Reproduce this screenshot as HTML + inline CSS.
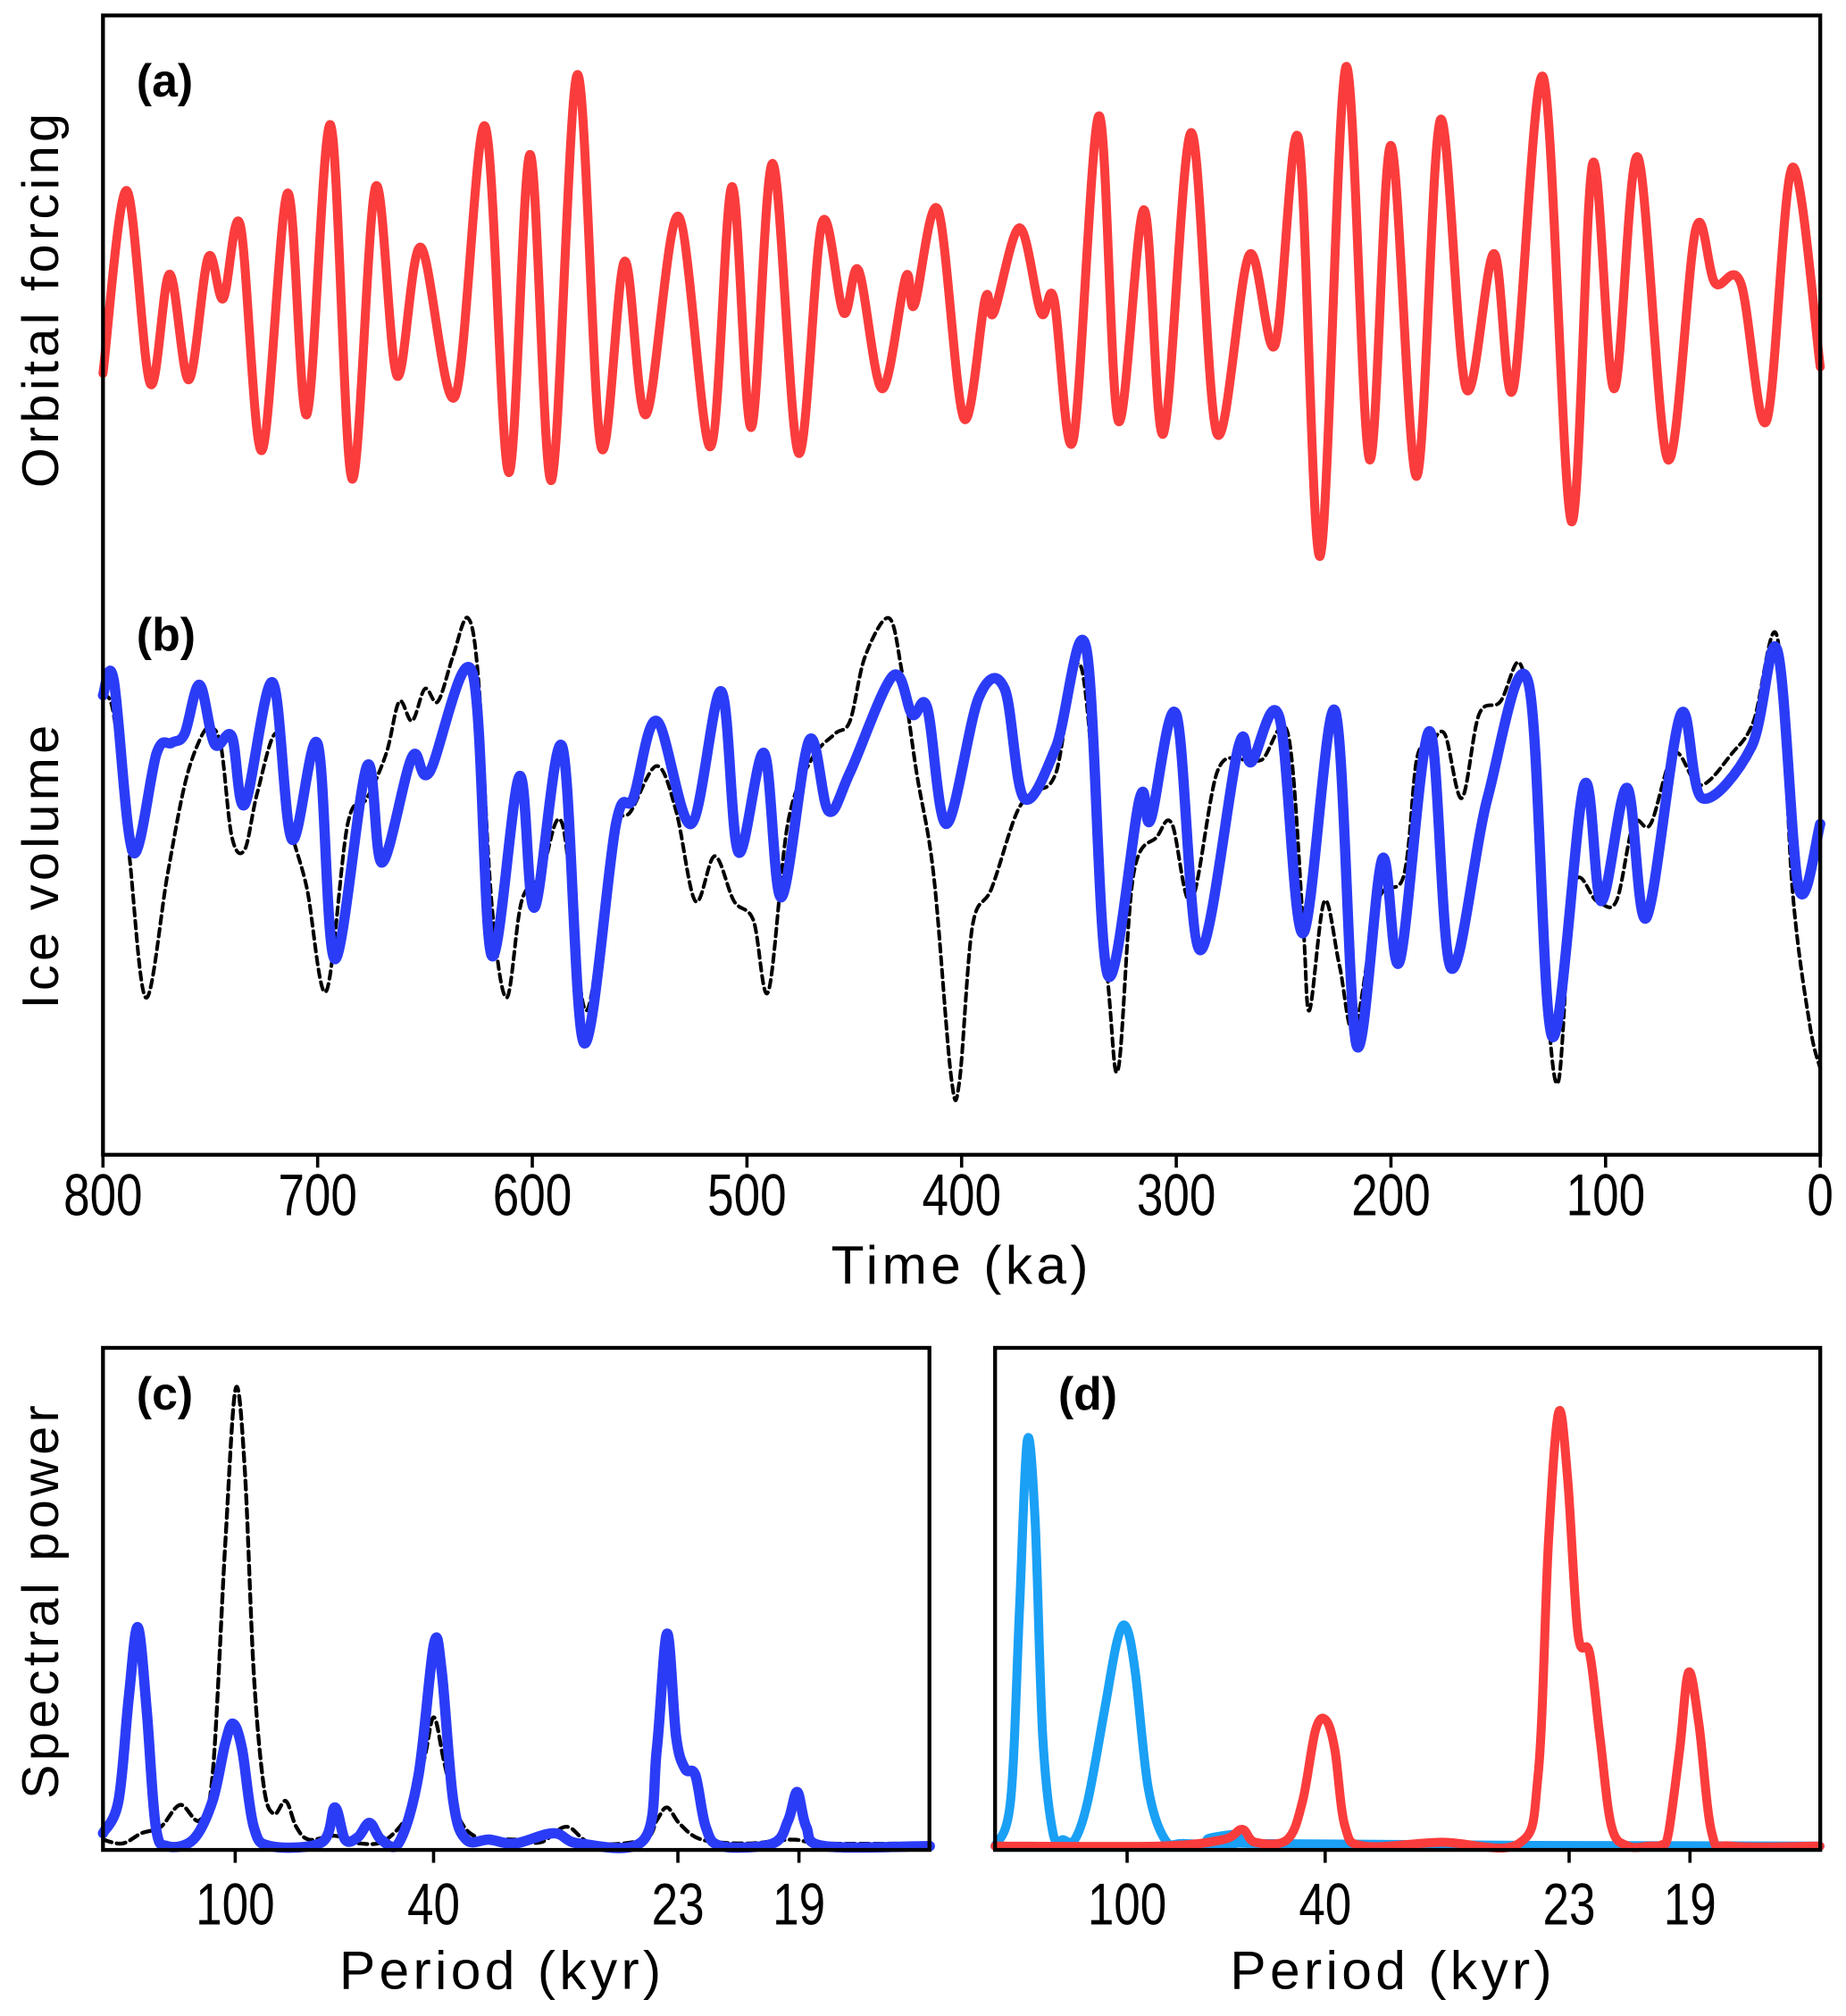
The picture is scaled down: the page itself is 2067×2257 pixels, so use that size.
<!DOCTYPE html>
<html><head><meta charset="utf-8"><style>
html,body{margin:0;padding:0;background:#fff;}
svg{display:block;}
text{font-family:"Liberation Sans Narrow","Liberation Sans",sans-serif;fill:#000;}
</style></head><body>
<svg id="fig" width="2067" height="2257" viewBox="0 0 1434 1566" preserveAspectRatio="none" xmlns="http://www.w3.org/2000/svg">
<rect x="0" y="0" width="1434" height="1566" fill="#fff"/>
<g id="marks"></g>
<rect x="80" y="12" width="1334" height="885" fill="none" stroke="#000" stroke-width="3"/>
<rect x="80" y="1047" width="642" height="390" fill="none" stroke="#000" stroke-width="3"/>
<rect x="773" y="1047" width="641" height="390" fill="none" stroke="#000" stroke-width="3"/>
<g id="ticks"></g>
<text x="106" y="75" font-size="36" font-weight="bold" font-family="Liberation Sans, sans-serif">(a)</text>
<text x="106" y="505" font-size="36" font-weight="bold" font-family="Liberation Sans, sans-serif">(b)</text>
<text x="106" y="1095" font-size="36" font-weight="bold" font-family="Liberation Sans, sans-serif">(c)</text>
<text x="822" y="1095" font-size="36" font-weight="bold" font-family="Liberation Sans, sans-serif">(d)</text>
<text transform="translate(45,232) rotate(-90)" text-anchor="middle" font-size="40" letter-spacing="3">Orbital forcing</text>
<text transform="translate(45,672) rotate(-90)" text-anchor="middle" font-size="40" letter-spacing="3">Ice volume</text>
<text transform="translate(45,1243) rotate(-90)" text-anchor="middle" font-size="40" letter-spacing="3">Spectral power</text>
<text x="747" y="997" text-anchor="middle" font-size="42" letter-spacing="3">Time (ka)</text>
<text x="390" y="1545" text-anchor="middle" font-size="42" letter-spacing="3">Period (kyr)</text>
<text x="1082" y="1545" text-anchor="middle" font-size="42" letter-spacing="3">Period (kyr)</text>
</svg>
<script>
const forcingTime=[800,789,778,769,760,751,744,736,726,714,705,694,684,673,663,652,636,622,611,601,591,579,568,557,547,532,517,507,498,488,476,465,455,448,437,426,422,411,399,389,385,373,363,357,348,336,327,315,306,293,281,266,254,243,233,221,210,200,188,177,165,152,143,129,116,106,96,85,71,58,49,37,25,13,0];
const forcingValue=[0.10,1.52,0.02,0.87,0.05,1.00,0.68,1.25,-0.50,1.50,-0.22,2.03,-0.72,1.55,0.08,1.08,-0.08,2.02,-0.67,1.80,-0.73,2.42,-0.47,0.97,-0.22,1.32,-0.47,1.55,-0.32,1.73,-0.52,1.27,0.57,0.90,-0.02,0.85,0.63,1.37,-0.25,0.68,0.57,1.23,0.57,0.68,-0.42,2.10,-0.27,1.37,-0.37,1.97,-0.37,1.02,0.32,1.92,-1.32,2.48,-0.57,1.87,-0.70,2.07,-0.02,1.03,-0.02,2.40,-1.05,1.73,-0.02,1.78,-0.57,1.22,0.80,0.80,-0.27,1.70,0.15];
const modelTime=[800,795,786,775,768,762,755,748,740,734,721,712,700,692,677,670,656,648,628,619,606,599,586,576,561,553,542,526,512,504,492,484,471,462,452,432,423,416,407,392,380,371,356,342,332,317,312,300,289,271,265,252,241,226,216,204,196,182,172,155,136,125,110,102,90,81,65,55,32,20,10,0];
const modelIce=[2.6,2.72,1.38,2.15,2.23,2.3,2.68,2.22,2.28,1.75,2.7,1.48,2.22,0.55,2.05,1.3,2.12,2.0,2.78,0.58,1.97,0.95,2.2,-0.1,1.6,1.8,2.4,1.6,2.63,1.38,2.15,1.03,2.25,1.7,2.0,2.75,2.45,2.5,1.6,2.58,2.65,1.8,2.2,2.97,0.43,1.8,1.63,2.45,0.62,2.2,2.08,2.43,0.75,2.48,-0.12,1.33,0.53,2.32,0.48,1.8,2.7,-0.05,1.9,1.0,1.88,0.87,2.45,1.8,2.2,2.95,1.1,1.6];
const dataTime=[800,795,788,780,770,762,755,750,745,740,734,728,719,713,705,696,686,677,668,662,656,650,644,637,630,625,619,612,605,596,586,575,563,554,542,533,524,515,506,497,490,481,470,459,452,445,434,428,421,413,405,401,395,386,374,365,356,344,332,327,320,309,302,293,281,269,260,248,241,238,231,224,217,206,194,188,182,175,167,159,149,140,134,128,122,115,104,95,87,79,68,56,41,31,20,13,5,0];
const dataIce=[2.6,2.45,1.4,0.25,1.2,1.9,2.25,2.35,2.2,1.5,1.4,1.85,2.3,1.6,1.1,0.3,1.6,1.8,2.15,2.55,2.4,2.65,2.55,2.9,3.2,2.7,1.0,0.25,1.0,1.2,1.6,0.15,1.5,1.7,2.05,1.7,1.0,1.35,1.0,0.85,0.3,1.6,2.1,2.3,2.4,2.9,3.2,2.8,2.0,1.2,-0.35,-0.4,0.8,1.1,1.7,1.85,2.0,2.8,0.4,-0.3,1.2,1.5,1.6,1.0,2.0,2.1,2.1,2.3,0.85,0.15,1.0,0.5,0.0,1.0,1.2,2.1,2.2,2.3,1.8,2.45,2.55,2.85,2.2,0.4,-0.4,1.1,1.0,1.0,1.6,1.6,2.15,1.9,2.15,2.4,3.05,1.1,0.05,-0.3];
const specModelFreq=[0,1.17,1.95,2.63,3.31,3.99,4.87,6.82,8.28,9.25,9.84,10.52,11.40,12.66,16.56,17.53,18.31,19.29,20.16,21.04,22.40,23.86,25.03,25.62,26.49,27.47,29.22,31.17,34.09,36.04,40.91,41.88,42.66,43.34,44.02,44.80,45.58,46.75,50.65,51.82,52.50,53.18,54.54,62.53];
const specModelPower=[1.2,3.7,11.7,17.2,10.7,1.7,0.2,0.7,3.7,8.2,9.7,7.7,1.7,0.2,0.5,3.2,0.7,0.9,2.0,0.7,0.5,5.7,15.9,13.7,3.7,0.7,0.7,0.4,1.2,0.4,0.7,7.7,16.7,8.7,6.2,5.7,1.7,0.2,0.4,2.2,4.4,1.7,0.2,0.2];
const specDataFreq=[0,1.46,2.92,4.38,5.84,7.31,8.28,9.25,10.03,10.71,11.40,12.18,12.95,13.83,14.61,15.58,17.53,19.48,21.43,23.38,24.35,25.03,25.81,26.79,28.25,31.17,33.12,35.06,37.01,40.91,41.88,42.66,43.64,45.29,48.70,52.11,54.54,62.53];
const specDataPower=[0.7,0.4,1.2,1.7,3.4,2.2,5.7,23.7,35.7,29.7,13.7,4.7,2.7,3.7,1.7,0.7,1.0,0.4,0.7,3.2,7.2,10.2,6.7,2.7,0.9,0.7,0.5,1.7,0.4,0.7,2.2,3.2,1.9,0.7,0.4,0.7,0.4,0.4];
const specEccFreq=[0,1.17,1.85,2.44,3.02,3.61,4.39,5.17,6.04,7.02,8.28,9.26,9.94,10.62,11.6,12.87,14.33,18.23,18.81,19.4,62.48];
const specEccPower=[0.2,3.7,18.7,31.7,25.7,8.7,1.2,0.7,0.7,3.7,10.7,16.2,17.2,13.7,4.7,0.7,0.4,0.4,1.2,0.4,0.2];
const specForcFreq=[0,12.38,17.25,18.71,19.69,22.12,23.29,24.27,25.05,25.73,26.51,27.97,33.82,39.67,41.13,41.91,42.69,43.37,44.15,45.03,45.81,46.69,47.95,49.5,50.5,51.0,51.85,52.53,53.31,54.29,55.75,62.48];
const specForcPower=[0.2,0.2,0.7,1.5,0.5,0.7,3.7,9.2,10.0,7.7,1.7,0.2,0.5,0.4,5.7,23.7,33.9,28.7,16.7,15.2,8.7,1.7,0.2,0.2,0.3,1.2,7.7,13.7,9.7,1.2,0.2,0.2];
const timeTicks=[800,700,600,500,400,300,200,100,0];
const periodTicks=[100,40,23,19];

const NS='http://www.w3.org/2000/svg';
const xTime=t=>80+(800-t)/800*1334;
const yForc=v=>300-v*100;
const yIce=v=>800-v*100;
const xC=f=>80+f/62.5*642;
const xD=f=>773+f/62.5*641;
const ySpec=p=>1436-p*10;

function smooth(pts){
  let d='M'+pts[0][0].toFixed(1)+','+pts[0][1].toFixed(1);
  for(let i=0;i<pts.length-1;i++){
    const p0=pts[Math.max(0,i-1)],p1=pts[i],p2=pts[i+1],p3=pts[Math.min(pts.length-1,i+2)];
    const c1x=p1[0]+(p2[0]-p0[0])/6,c1y=p1[1]+(p2[1]-p0[1])/6;
    const c2x=p2[0]-(p3[0]-p1[0])/6,c2y=p2[1]-(p3[1]-p1[1])/6;
    d+=' C'+c1x.toFixed(1)+','+c1y.toFixed(1)+' '+c2x.toFixed(1)+','+c2y.toFixed(1)+' '+p2[0].toFixed(1)+','+p2[1].toFixed(1);
  }
  return d;
}
const marks=document.getElementById('marks');
function line(xs,ys,fx,fy,color,w,dash,name){
  const p=document.createElementNS(NS,'path');
  p.setAttribute('d',smooth(xs.map((x,i)=>[fx(x),fy(ys[i])])));
  p.setAttribute('fill','none');p.setAttribute('stroke',color);p.setAttribute('stroke-width',w);
  p.setAttribute('stroke-linejoin','round');p.setAttribute('stroke-linecap','round');
  if(dash)p.setAttribute('stroke-dasharray',dash);
  
  
  marks.appendChild(p);
}
line(forcingTime,forcingValue,xTime,yForc,'#fa3c3c',7,null,'orbital-forcing-line');
line(dataTime,dataIce,xTime,yIce,'#000',2.8,'6,4','ice-volume-data-line');
line(modelTime,modelIce,xTime,yIce,'#2b3cf7',8,null,'ice-volume-model-line');
line(specDataFreq,specDataPower,xC,ySpec,'#000',3,'7,4','spectrum-data-line');
line(specModelFreq,specModelPower,xC,ySpec,'#2b3cf7',8,null,'spectrum-model-line');
line(specEccFreq,specEccPower,xD,ySpec,'#1aa0f5',7,null,'spectrum-eccentricity-line');
line(specForcFreq,specForcPower,xD,ySpec,'#fa3c3c',7,null,'spectrum-forcing-line');

const tg=document.getElementById('ticks');
function tick(x,y0,dy,label,name){
  const l=document.createElementNS(NS,'line');
  l.setAttribute('x1',x);l.setAttribute('x2',x);l.setAttribute('y1',y0);l.setAttribute('y2',y0+10);
  l.setAttribute('stroke','#000');l.setAttribute('stroke-width','2.5');
  
  
  tg.appendChild(l);
  const t=document.createElementNS(NS,'text');
  t.setAttribute('transform','translate('+x+','+(y0+dy)+') scale(0.8,1)');
  t.setAttribute('text-anchor','middle');t.setAttribute('font-size','46');
  t.textContent=label;
  
  
  tg.appendChild(t);
}
timeTicks.forEach(v=>tick(xTime(v),897,47,String(v),'time-'+v));
periodTicks.forEach(v=>tick(xC(1000/v),1437,58,String(v),'period-c-'+v));
periodTicks.forEach(v=>tick(xD(1000/v),1437,58,String(v),'period-d-'+v));
</script>
</body></html>
